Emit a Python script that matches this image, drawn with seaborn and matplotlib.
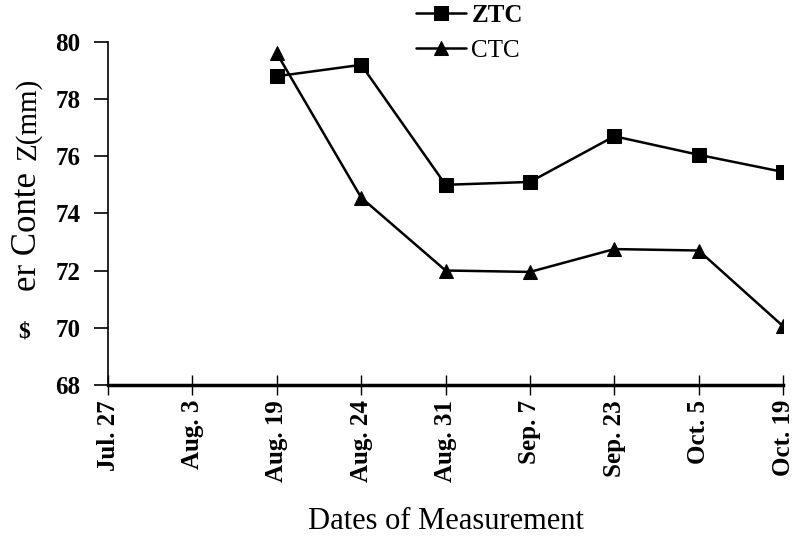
import matplotlib
matplotlib.use("Agg")
import matplotlib.pyplot as plt
import seaborn as sns
import pandas as pd
import numpy as np

dates = ["Jul. 27", "Aug. 3", "Aug. 19", "Aug. 24", "Aug. 31", "Sep. 7", "Sep. 23", "Oct. 5", "Oct. 19"]
data_dates = ["Aug. 19", "Aug. 24", "Aug. 31", "Sep. 7", "Sep. 23", "Oct. 5", "Oct. 19"]
ztc = [78.8, 79.2, 75.0, 75.1, 76.7, 76.05, 75.45]
ctc = [79.6, 74.55, 72.0, 71.95, 72.75, 72.7, 70.05]
yticks = [68, 70, 72, 74, 76, 78, 80]

rows = []
for name, vals in [("ZTC", ztc), ("CTC", ctc)]:
    for d, v in zip(data_dates, vals):
        rows.append({"pos": dates.index(d), "value": v, "series": name})
df = pd.DataFrame(rows)

sns.set_theme(style="ticks")
plt.rcParams["font.family"] = ["Liberation Serif", "DejaVu Serif"]
plt.rcParams["text.color"] = "black"
plt.rcParams["axes.labelcolor"] = "black"
plt.rcParams["xtick.color"] = "black"
plt.rcParams["ytick.color"] = "black"

fig = plt.figure(figsize=(7.95, 5.45), dpi=100)
ax = fig.add_axes([0.136, 0.294, 0.849, 0.629])

sns.lineplot(data=df, x="pos", y="value", hue="series", style="series",
             hue_order=["ZTC", "CTC"], style_order=["ZTC", "CTC"],
             palette={"ZTC": "black", "CTC": "black"},
             markers={"ZTC": "s", "CTC": "^"}, dashes=False,
             markersize=10, linewidth=1.8, markeredgecolor="black",
             ax=ax, legend=True)

ax.set_xlim(0, 8)
ax.set_ylim(68, 80)
ax.set_xticks(range(len(dates)))
ax.set_xticklabels(dates, rotation=90, fontsize=18, fontweight="bold")
ax.set_yticks(yticks)
ax.set_yticklabels([str(t) for t in yticks], fontsize=18, fontweight="bold")
ax.tick_params(axis="x", direction="inout", length=14, width=1, pad=4)
ax.tick_params(axis="y", direction="out", length=10, width=1.2, pad=10)
for s in ["top", "right"]:
    ax.spines[s].set_visible(False)
ax.spines["left"].set_linewidth(1.2)
ax.spines["bottom"].set_linewidth(2.5)
ax.spines["left"].set_color("black")
ax.spines["bottom"].set_color("black")
ax.set_xlabel("Dates of Measurement", fontsize=22, labelpad=18)
ax.set_ylabel("")

# Y-axis label pieces (as in the reference)
fig.text(0.030, 0.39, "$", fontsize=17, fontweight="bold", ha="center", va="center")
fig.text(0.035, 0.576, "er Conte", fontsize=25, rotation=90, ha="center", va="center")
fig.text(0.035, 0.782, "Z(mm)", fontsize=21, rotation=90, ha="center", va="center")

leg = ax.legend(loc="upper left", bbox_to_anchor=(0.442, 1.14), frameon=False,
                fontsize=18, handlelength=2.0, handletextpad=0.2, labelspacing=0.5,
                borderaxespad=0)
for t in leg.get_texts():
    if t.get_text() == "ZTC":
        t.set_fontweight("bold")

fig.savefig("out.png", dpi=100)
